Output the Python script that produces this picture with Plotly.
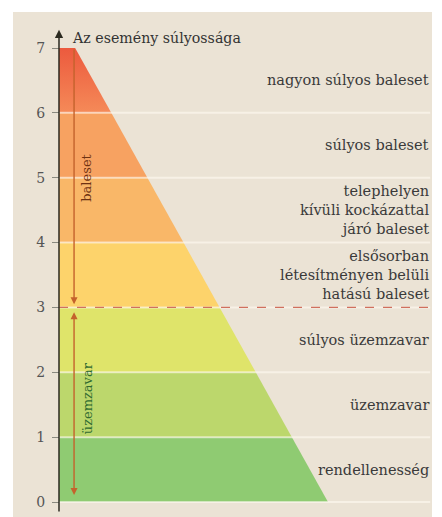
import plotly.graph_objects as go

# ---- data ----
levels = [0, 1, 2, 3, 4, 5, 6, 7]
band_colors = ["#8fcb72", "#bcd76c", "#dfe46a", "#fdd36b", "#f9b768", "#f7a261", "#f4824f"]
band_labels = [
    "rendellenesség",
    "üzemzavar",
    "súlyos üzemzavar",
    "elsősorban<br>létesítményen belüli<br>hatású baleset",
    "telephelyen<br>kívüli kockázattal<br>járó baleset",
    "súlyos baleset",
    "nagyon súlyos baleset",
]
axis_title = "Az esemény súlyossága"
group_names = ["baleset", "üzemzavar"]
group_split = 3
top_width = 0.06  # relative width of the pyramid at the top level

FONT = "DejaVu Serif"
max_level = levels[-1]


def right_edge(y):
    return 1 - y * (1 - top_width) / max_level


fig = go.Figure()

for i in range(len(levels) - 1):
    y0, y1 = levels[i], levels[i + 1]
    xs = [0, right_edge(y0), right_edge(y1), 0, 0]
    ys = [y0, y0, y1, y1, y0]
    kw = dict(fillcolor=band_colors[i])
    if i == len(levels) - 2:
        kw = dict(fillgradient=dict(type="vertical",
                                    colorscale=[[0, "#f58a58"], [1, "#ec5a3e"]]))
    fig.add_trace(go.Scatter(x=xs, y=ys, mode="lines", fill="toself",
                             line=dict(width=0), hoverinfo="skip",
                             showlegend=False, **kw))

XR = 1.38
shapes = []
for lv in levels[:-1]:
    shapes.append(dict(type="line", xref="x", yref="y", x0=0, x1=XR, y0=lv, y1=lv,
                       line=dict(color="rgba(255,250,242,0.6)", width=2)))
shapes.append(dict(type="line", xref="x", yref="y", x0=0, x1=XR,
                   y0=group_split, y1=group_split,
                   line=dict(color="#d0705e", width=1.3, dash="dash")))

annotations = []
# y axis line with arrow
annotations.append(dict(x=0, y=7.28, ax=0, ay=-0.17, xref="x", yref="y",
                        axref="x", ayref="y", text="", showarrow=True,
                        arrowhead=2, arrowsize=1.1, arrowwidth=1.5,
                        arrowcolor="#2b2a20", standoff=0, startstandoff=0))
annotations.append(dict(x=0.04, y=7.16, xref="x", yref="y", text=axis_title,
                        showarrow=False, xanchor="left", yanchor="middle",
                        font=dict(family=FONT, size=14.2, color="#333333")))
# group arrows
AX = 0.056
annotations.append(dict(x=AX, y=group_split + 0.05, ax=AX, ay=max_level,
                        xref="x", yref="y", axref="x", ayref="y", text="",
                        showarrow=True, arrowhead=2, arrowsize=1, arrowwidth=1.4,
                        arrowcolor="#c4622c", standoff=0, startstandoff=0))
annotations.append(dict(x=AX, y=0.11, ax=AX, ay=group_split - 0.05,
                        xref="x", yref="y", axref="x", ayref="y", text="",
                        showarrow=True, arrowhead=2, startarrowhead=2,
                        arrowside="end+start", arrowsize=1, startarrowsize=1,
                        arrowwidth=1.4, arrowcolor="#c4622c",
                        standoff=0, startstandoff=0))
annotations.append(dict(x=0.104, y=5.0, xref="x", yref="y", text=group_names[0],
                        showarrow=False, textangle=-90,
                        font=dict(family=FONT, size=13, color="#6e3212")))
annotations.append(dict(x=0.104, y=1.6, xref="x", yref="y", text=group_names[1],
                        showarrow=False, textangle=-90,
                        font=dict(family=FONT, size=13, color="#2f6a30")))
# level labels
for i, lab in enumerate(band_labels):
    annotations.append(dict(x=1.384, y=levels[i] + 0.5, xref="x", yref="y",
                            text=lab, showarrow=False, xanchor="right",
                            yanchor="middle", align="right",
                            font=dict(family=FONT, size=14.5, color="#3a3a3a")))

fig.update_layout(
    width=442, height=517,
    margin=dict(l=5, r=18, t=4, b=8),
    paper_bgcolor="#ffffff",
    plot_bgcolor="#ebe3d5",
    shapes=shapes,
    annotations=annotations,
    xaxis=dict(range=[-0.171, 1.3866], showgrid=False, zeroline=False,
               showticklabels=False, ticks="", fixedrange=True),
    yaxis=dict(range=[-0.231, 7.555], tickvals=levels, showgrid=False,
               zeroline=False, showline=False, ticks="outside", ticklen=7,
               tickcolor="#8a8a80", anchor="free", position=0.1098,
               ticklabelstandoff=4,
               tickfont=dict(family=FONT, size=14, color="#555555")),
    showlegend=False,
)

fig.write_html("out.html")
